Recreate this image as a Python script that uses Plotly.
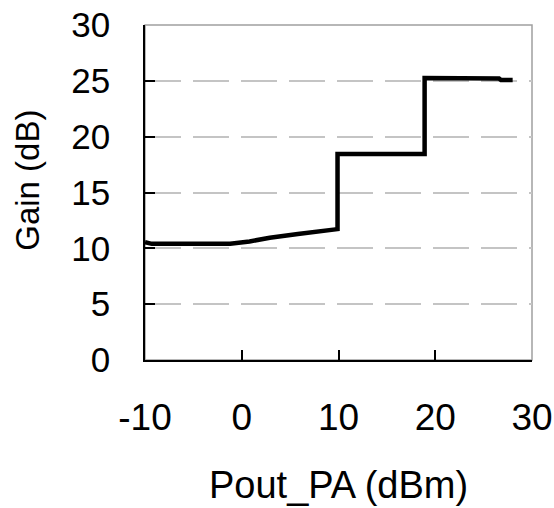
import plotly.graph_objects as go

# Data
pout_pa = [-10, -9.3, -6, -3, -1.2, 0.8, 2.9, 5.8, 8.1, 9.9, 9.9, 14, 18.9, 18.9, 23, 26.6, 26.8, 28]
gain_db = [10.55, 10.4, 10.4, 10.4, 10.42, 10.62, 10.95, 11.28, 11.52, 11.72, 18.45, 18.45, 18.45, 25.25, 25.25, 25.2, 25.07, 25.07]

x_ticks = [-10, 0, 10, 20, 30]
y_ticks = [0, 5, 10, 15, 20, 25, 30]

FONT = "Liberation Sans, Arial, sans-serif"

fig = go.Figure()
fig.add_trace(go.Scatter(
    x=pout_pa, y=gain_db, mode="lines",
    line=dict(color="black", width=4.5),
    showlegend=False, hoverinfo="skip",
))

# gray frame (top/right appear gray)
fig.add_shape(type="rect", xref="paper", yref="paper", x0=0, y0=0, x1=1, y1=1,
              line=dict(color="#a0a0a0", width=1.5), layer="below")

fig.update_layout(
    width=554, height=508,
    margin=dict(l=145, r=22, t=25, b=148, autoexpand=False),
    paper_bgcolor="white", plot_bgcolor="white",
    font=dict(family=FONT, color="black"),
    annotations=[
        dict(text="Pout_PA (dBm)", xref="paper", yref="paper", x=0.5, y=0,
             yshift=-102, xanchor="center", yanchor="top", showarrow=False,
             font=dict(family=FONT, size=38, color="black")),
        dict(text="Gain (dB)", xref="paper", yref="paper", x=0, y=0.535,
             xshift=-117, xanchor="center", yanchor="middle", showarrow=False,
             textangle=-90, font=dict(family=FONT, size=33, color="black")),
    ],
)

fig.update_xaxes(
    range=[-10, 30], tickvals=x_ticks, ticktext=[str(v) for v in x_ticks],
    ticks="inside", ticklen=10, tickwidth=1.5, tickcolor="black",
    showline=True, linecolor="black", linewidth=1.5,
    showgrid=False, zeroline=False, automargin=False,
    tickfont=dict(family=FONT, size=37, color="black"),
    ticklabelstandoff=24,
)
fig.update_yaxes(
    range=[0, 30], tickvals=y_ticks, ticktext=[str(v) for v in y_ticks],
    ticks="inside", ticklen=10, tickwidth=1.5, tickcolor="black",
    showline=True, linecolor="black", linewidth=1.5,
    showgrid=True, gridcolor="#c4c4c4", gridwidth=1.5, griddash="36px,12px",
    zeroline=False, automargin=False,
    tickfont=dict(family=FONT, size=35, color="black"),
    ticklabelstandoff=26,
)

fig.write_html("out.html", config={"displayModeBar": False},
               post_script="document.body.style.margin='0px';document.body.style.overflow='hidden';")
